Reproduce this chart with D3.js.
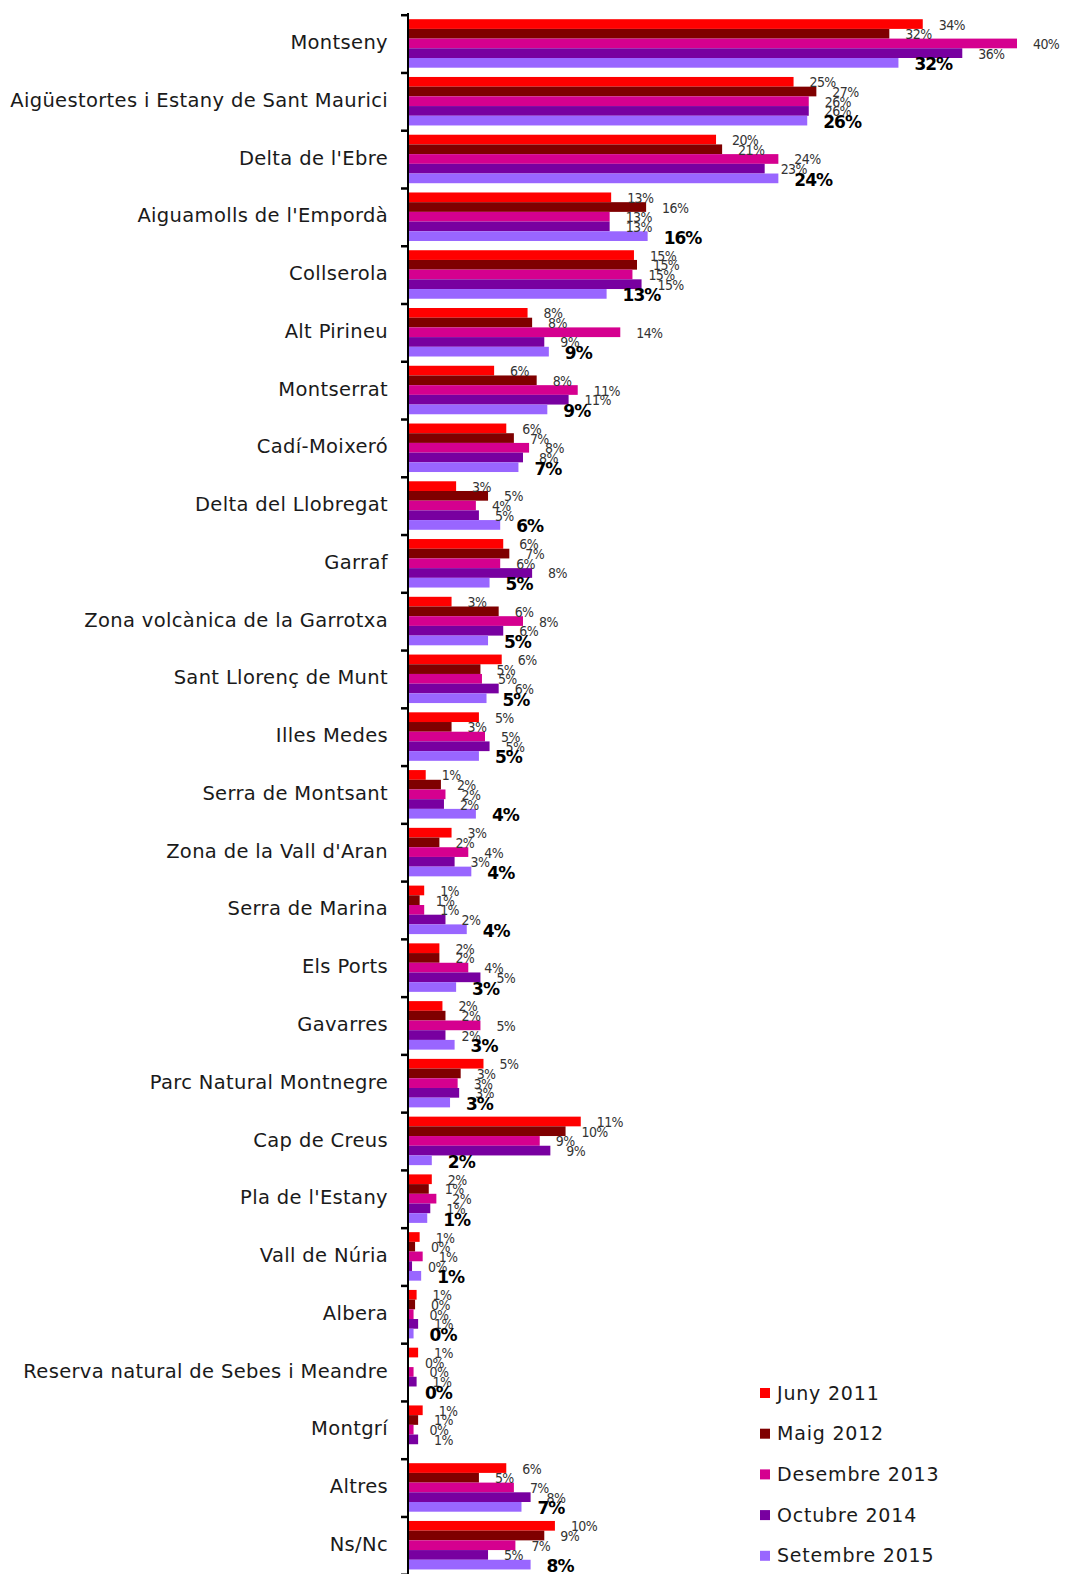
<!DOCTYPE html>
<html>
<head>
<meta charset="utf-8">
<script src="https://cdn.jsdelivr.net/npm/d3@7"></script>
<style>
  html, body { margin: 0; padding: 0; background: #fff; }
  svg { display: block; }
</style>
</head>
<body>
<div id="chart"></div>
<script>
const categories = ["Montseny","Aigüestortes i Estany de Sant Maurici","Delta de l'Ebre","Aiguamolls de l'Empordà","Collserola","Alt Pirineu","Montserrat","Cadí-Moixeró","Delta del Llobregat","Garraf","Zona volcànica de la Garrotxa","Sant Llorenç de Munt","Illes Medes","Serra de Montsant","Zona de la Vall d'Aran","Serra de Marina","Els Ports","Gavarres","Parc Natural Montnegre","Cap de Creus","Pla de l'Estany","Vall de Núria","Albera","Reserva natural de Sebes i Meandre","Montgrí","Altres","Ns/Nc"];

const seriesNames = ["Juny 2011","Maig 2012","Desembre 2013","Octubre 2014","Setembre 2015"];

const juny2011     = [33.8,25.3,20.2,13.3,14.8,7.8,5.6,6.4,3.1,6.2,2.8,6.1,4.6,1.1,2.8,1.0,2.0,2.2,4.9,11.3,1.5,0.7,0.5,0.6,0.9,6.4,9.6];
const maig2012     = [31.6,26.8,20.6,15.6,15.0,8.1,8.4,6.9,5.2,6.6,5.9,4.7,2.8,2.1,2.0,0.7,2.0,2.4,3.4,10.3,1.3,0.4,0.4,0,0.6,4.6,8.9];
const desembre2013 = [40.0,26.3,24.3,13.2,14.7,13.9,11.1,7.9,4.4,6.0,7.5,4.8,5.0,2.4,3.9,1.0,3.9,4.7,3.2,8.6,1.8,0.9,0.3,0.3,0.3,6.9,7.0];
const octubre2014  = [36.4,26.3,23.4,13.2,15.3,8.9,10.5,7.5,4.6,8.1,6.2,5.9,5.3,2.3,3.0,2.4,4.7,2.4,3.3,9.3,1.4,0.2,0.6,0.5,0.6,8.0,5.2];
const setembre2015 = [32.2,26.2,24.3,15.7,13.0,9.2,9.1,7.2,6.0,5.3,5.2,5.1,4.6,4.4,4.1,3.8,3.1,3.0,2.7,1.5,1.2,0.8,0.3,0,null,7.4,8.0];

const seriesValues = [juny2011, maig2012, desembre2013, octubre2014, setembre2015];
const colors = ["#FF0000","#7F0000","#D5008F","#7800A0","#9966FF"];

const W = 1067, H = 1574;
const axisX = 408;

const svg = d3.select("#chart").append("svg").attr("width", W).attr("height", H);

const x = d3.scaleLinear().domain([0, 40]).range([axisX + 1, axisX + 1 + 40 * 15.2]);
const y0 = d3.scaleBand().domain(categories).range([15.2, 15.2 + 27 * 57.76]).padding(0);
const y1 = d3.scaleBand().domain(seriesNames).range([4, 52.5]).padding(0);

const rows = [];
categories.forEach((c, i) => {
  seriesNames.forEach((s, j) => {
    const v = seriesValues[j][i];
    if (v !== null && v !== undefined) rows.push({c, s, j, v});
  });
});

svg.append("g").selectAll("rect")
  .data(rows)
  .join("rect")
  .attr("x", x(0))
  .attr("y", d => y0(d.c) + y1(d.s))
  .attr("width", d => Math.max(0, x(d.v) - x(0)))
  .attr("height", y1.bandwidth())
  .attr("fill", d => colors[d.j]);

// value labels
svg.append("g").selectAll("text")
  .data(rows)
  .join("text")
  .attr("x", d => x(d.v) + 16)
  .attr("y", d => y0(d.c) + y1(d.s) + y1.bandwidth() / 2 + (d.j === 4 ? 2.5 : 1.5))
  .attr("dominant-baseline", "middle")
  .attr("font-family", d => d.j === 4 ? "'DejaVu Sans', sans-serif" : "'DejaVu Sans Condensed', 'DejaVu Sans', sans-serif")
  .attr("font-size", d => d.j === 4 ? 17 : 14)
  .attr("font-weight", d => d.j === 4 ? "bold" : "normal")
  .attr("letter-spacing", d => d.j === 4 ? -1 : -0.6)
  .attr("fill", d => d.j === 4 ? "#000" : "#333")
  .text(d => Math.round(d.v) + "%");

// axis
const axisG = svg.append("g").attr("transform", `translate(${axisX},0)`);
axisG.append("line")
  .attr("x1", 0).attr("x2", 0)
  .attr("y1", 13).attr("y2", H)
  .attr("stroke", "#000").attr("stroke-width", 2);
const boundaries = d3.range(categories.length + 1).map(k => y0.range()[0] + k * y0.step());
axisG.selectAll("line.tick")
  .data(boundaries)
  .join("line")
  .attr("class", "tick")
  .attr("x1", -7).attr("x2", 0)
  .attr("y1", d => d).attr("y2", d => d)
  .attr("stroke", "#000").attr("stroke-width", 2.5);

// category labels
svg.append("g").selectAll("text")
  .data(categories)
  .join("text")
  .attr("x", 388)
  .attr("y", d => y0(d) + y0.bandwidth() / 2 - 0.5)
  .attr("text-anchor", "end")
  .attr("dominant-baseline", "middle")
  .attr("font-family", "'DejaVu Sans', sans-serif")
  .attr("font-size", 19.5)
  .attr("letter-spacing", 0.35)
  .attr("fill", "#1a1a1a")
  .text(d => d);

// legend
const legend = svg.append("g").attr("transform", "translate(760,1393)");
const li = legend.selectAll("g")
  .data(seriesNames)
  .join("g")
  .attr("transform", (d, i) => `translate(0,${i * 40.7})`);
li.append("rect")
  .attr("x", 0).attr("y", -5)
  .attr("width", 10).attr("height", 10)
  .attr("fill", (d, i) => colors[i]);
li.append("text")
  .attr("x", 17).attr("y", 1)
  .attr("dominant-baseline", "middle")
  .attr("font-family", "'DejaVu Sans', sans-serif")
  .attr("font-size", 19)
  .attr("letter-spacing", 0.8)
  .attr("fill", "#1a1a1a")
  .text(d => d);
</script>
</body>
</html>
